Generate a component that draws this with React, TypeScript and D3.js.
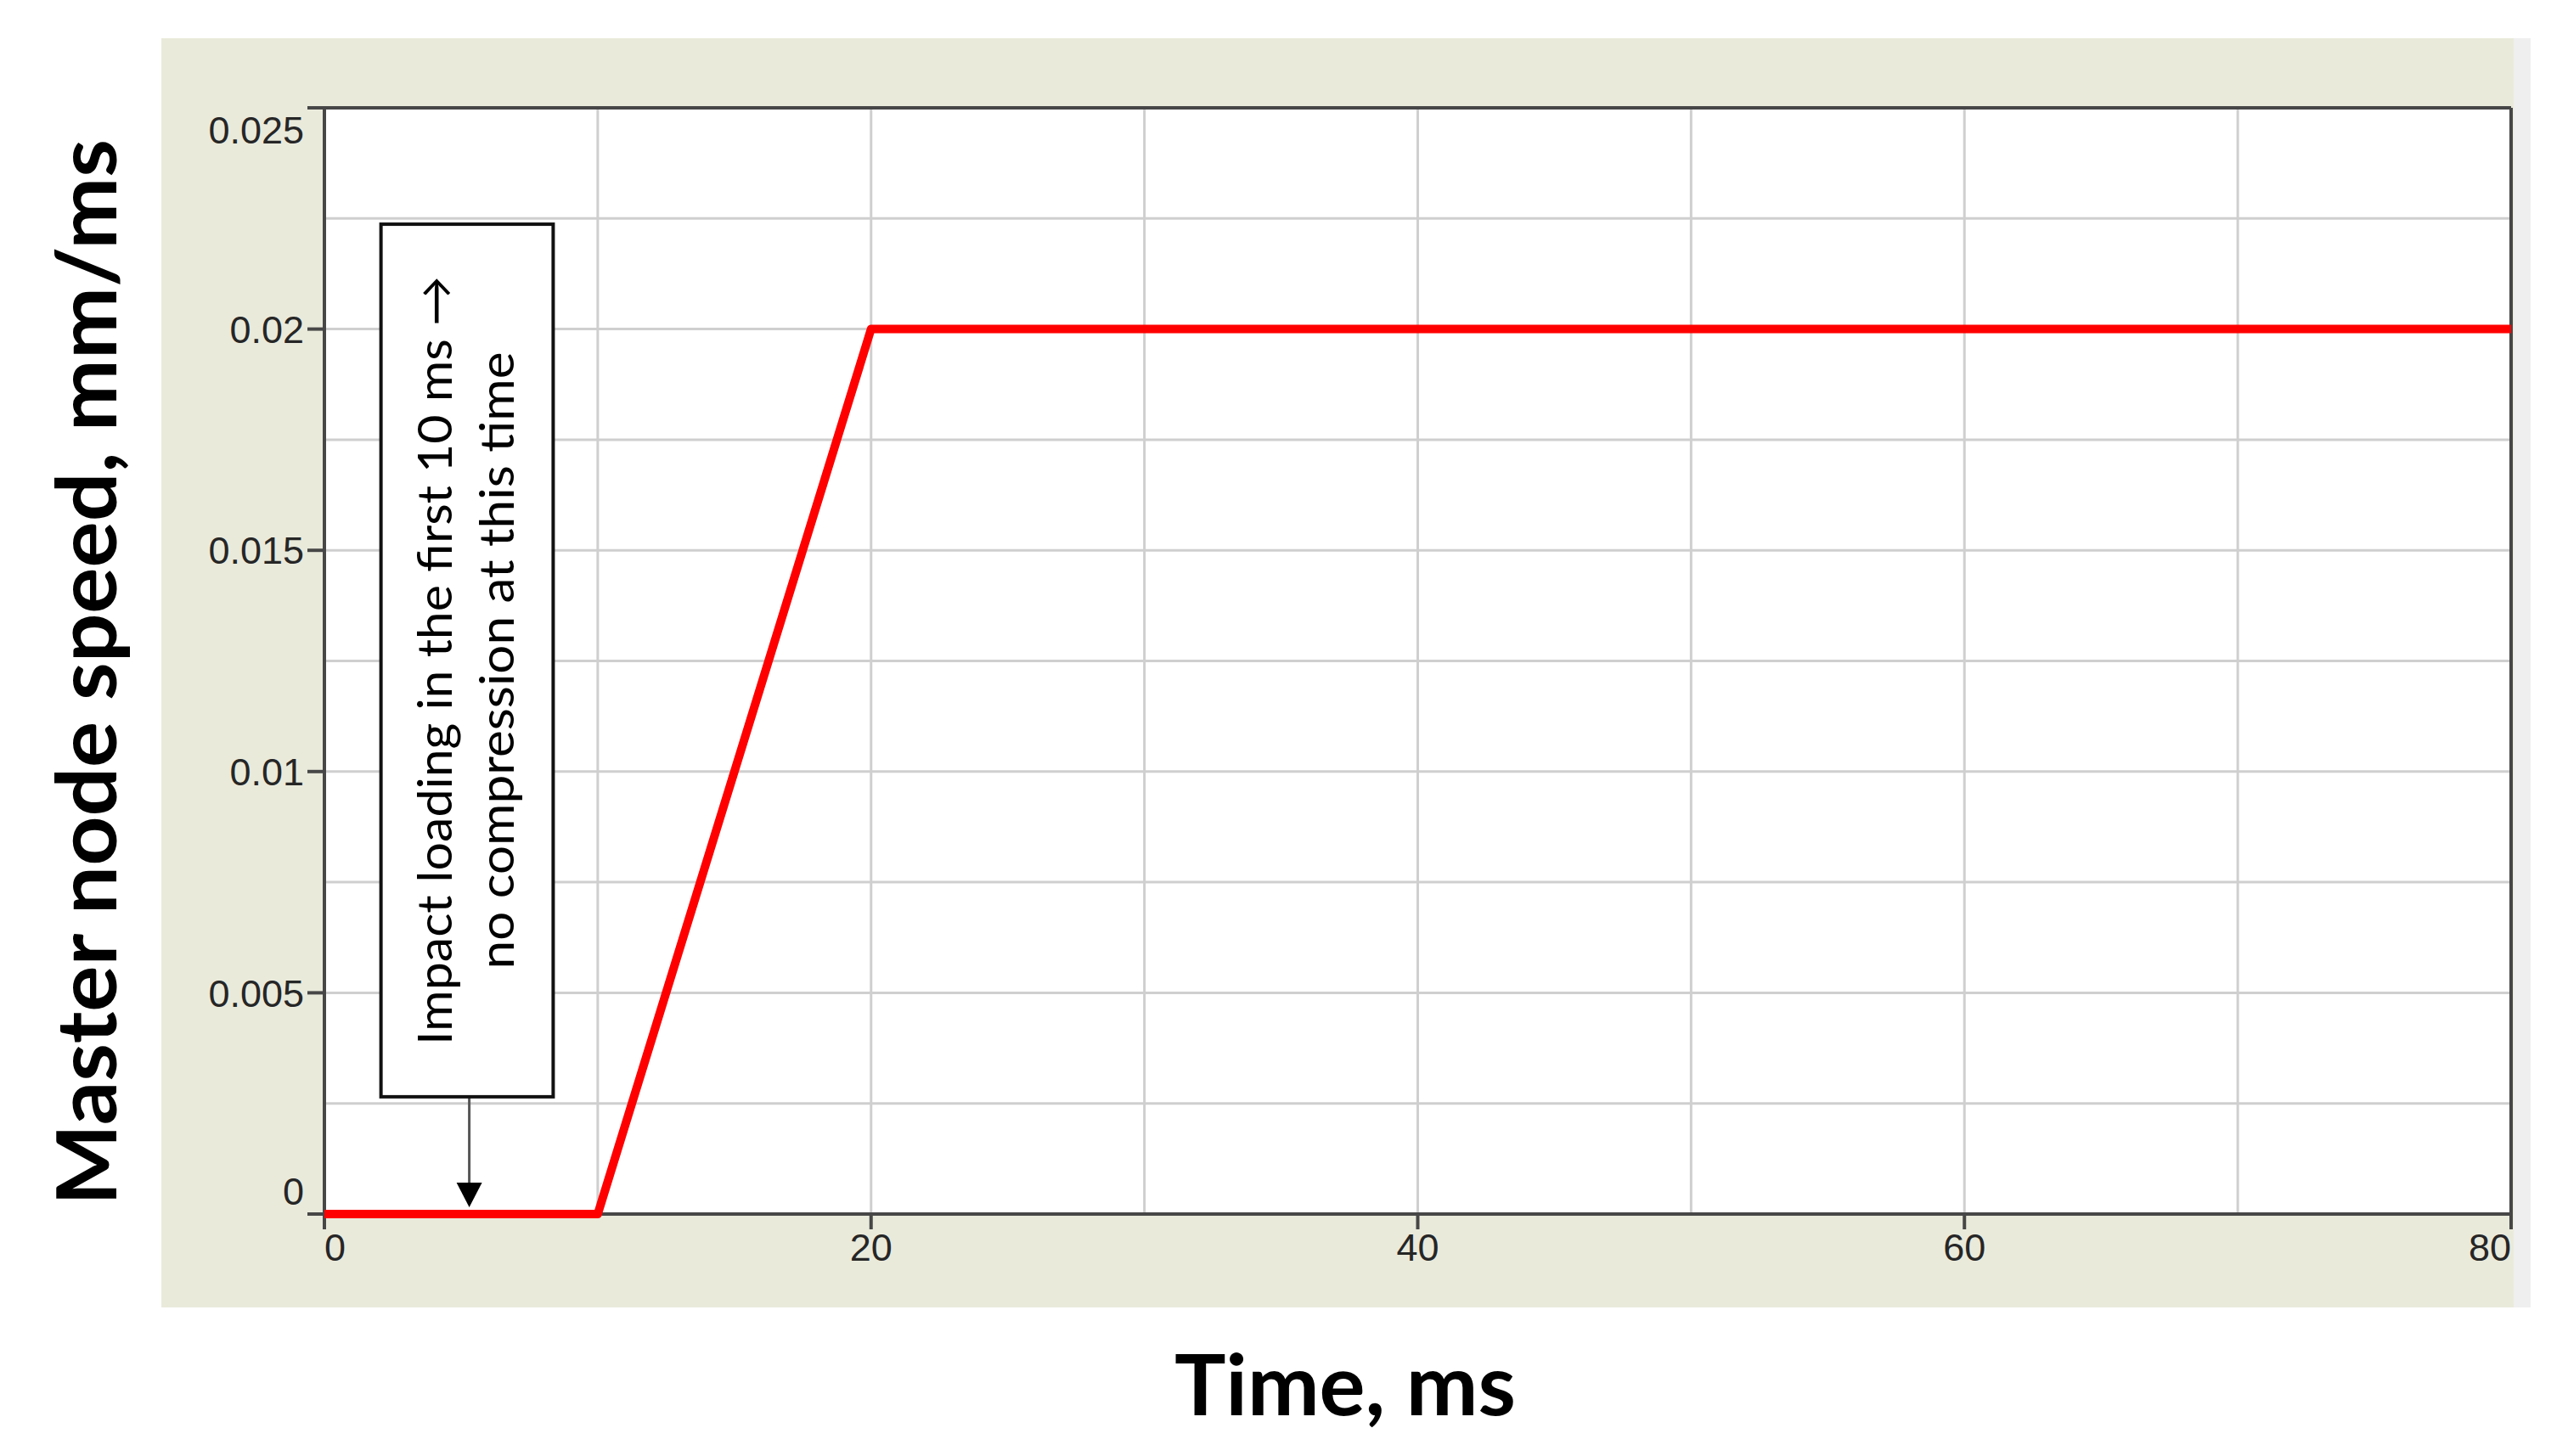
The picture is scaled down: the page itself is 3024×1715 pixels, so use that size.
import React from "react";
import * as d3 from "d3";

// master node speed vs time
const timeMs = [0, 10, 20, 80];
const speedMmPerMs = [0, 0, 0.02, 0.02];

const xTicks = [0, 20, 40, 60, 80];
const xGrid = [10, 20, 30, 40, 50, 60, 70];
const yTicks = [0, 0.005, 0.01, 0.015, 0.02, 0.025];
const yTickLabels = ["0", "0.005", "0.01", "0.015", "0.02", "0.025"];
const yGrid = [0.0025, 0.005, 0.0075, 0.01, 0.0125, 0.015, 0.0175, 0.02, 0.0225];

const noteLines = ["Impact loading in the first 10 ms \u2192", "no compression at this time"];
// annotation box in data units: [x0, x1], [y0, y1], pointer x
const noteX = [2.07, 8.37];
const noteY = [0.00265, 0.02237];
const notePointerX = 5.3;

const W = 3024;
const H = 1715;
const plot = { left: 382, right: 2957, top: 127, bottom: 1430 };
const panel = { left: 190, right: 2960, top: 45, bottom: 1540 };

const tickFont = "'Liberation Sans', Arial, sans-serif";
const titleFont = "Lato, 'Open Sans', sans-serif";

export default function App() {
  const x = d3.scaleLinear().domain([0, 80]).range([plot.left, plot.right]);
  const y = d3.scaleLinear().domain([0, 0.025]).range([plot.bottom, plot.top]);

  const line = d3
    .line<number>()
    .x((d, i) => x(timeMs[i]))
    .y((d) => y(d));

  const bx0 = x(noteX[0]);
  const bx1 = x(noteX[1]);
  const by0 = y(noteY[1]);
  const by1 = y(noteY[0]);
  const px = x(notePointerX);
  const tipY = y(0) - 8;

  return (
    <div style={{ position: "absolute", left: 0, top: 0 }}>
      <svg width={W} height={H} viewBox={`0 0 ${W} ${H}`} style={{ display: "block", background: "#fff" }}>
        {/* panel background */}
        <rect x={panel.left} y={panel.top} width={panel.right - panel.left} height={panel.bottom - panel.top} fill="#eaeadb" />
        <rect x={panel.right} y={panel.top} width={20} height={panel.bottom - panel.top} fill="#efefef" />
        <rect x={plot.left} y={plot.top} width={plot.right - plot.left} height={plot.bottom - plot.top} fill="#fff" />

        {/* grid */}
        {xGrid.map((t) => (
          <line key={"gx" + t} x1={x(t)} x2={x(t)} y1={plot.top} y2={plot.bottom} stroke="#cfcfcf" strokeWidth={3} />
        ))}
        {yGrid.map((t) => (
          <line key={"gy" + t} x1={plot.left} x2={plot.right} y1={y(t)} y2={y(t)} stroke="#cfcfcf" strokeWidth={3} />
        ))}

        {/* frame + ticks */}
        <g stroke="#474747" strokeWidth={4} fill="none">
          <line x1={plot.left} x2={plot.left} y1={plot.top} y2={plot.bottom} />
          <line x1={plot.left} x2={plot.right} y1={plot.bottom} y2={plot.bottom} />
          <line x1={plot.left} x2={plot.right} y1={plot.top} y2={plot.top} />
          <line x1={plot.right} x2={plot.right} y1={plot.top} y2={plot.bottom} />
          {xTicks.map((t) => (
            <line key={"tx" + t} x1={x(t)} x2={x(t)} y1={plot.bottom} y2={plot.bottom + 18} />
          ))}
          {yTicks.map((t) => (
            <line key={"ty" + t} x1={plot.left - 20} x2={plot.left} y1={y(t)} y2={y(t)} />
          ))}
        </g>

        {/* tick labels */}
        <g fontFamily={tickFont} fontSize={45} fill="#262626">
          {xTicks.map((t, i) => (
            <text
              key={"lx" + t}
              x={x(t)}
              y={1485}
              textAnchor={i === 0 ? "start" : i === xTicks.length - 1 ? "end" : "middle"}
            >
              {t}
            </text>
          ))}
          {yTicks.map((t, i) => {
            const shift = i === 0 ? -27 : i === yTicks.length - 1 ? 26 : 0;
            return (
              <text key={"ly" + t} x={plot.left - 24} y={y(t) + shift} dy="0.36em" textAnchor="end">
                {yTickLabels[i]}
              </text>
            );
          })}
        </g>

        {/* series */}
        <path d={line(speedMmPerMs) || ""} fill="none" stroke="#ff0000" strokeWidth={10} strokeLinejoin="round" />

        {/* annotation */}
        <line x1={px} x2={px} y1={by1} y2={tipY - 28} stroke="#555" strokeWidth={3} />
        <path d={`M${px - 15},${tipY - 29}L${px + 15},${tipY - 29}L${px},${tipY}Z`} fill="#000" />
        <rect x={bx0} y={by0} width={bx1 - bx0} height={by1 - by0} fill="#fff" stroke="#111" strokeWidth={4} />
        <g transform={`translate(${(bx0 + bx1) / 2},${(by0 + by1) / 2}) rotate(-90)`} fontFamily={titleFont} fontSize={56} fill="#000">
          <text x={0} y={-18} textAnchor="middle" textLength={906} lengthAdjust="spacingAndGlyphs">
            {noteLines[0]}
          </text>
          <text x={0} y={55} textAnchor="middle" textLength={727} lengthAdjust="spacingAndGlyphs">
            {noteLines[1]}
          </text>
        </g>

        {/* axis titles */}
        <text
          transform="translate(137,792) rotate(-90)"
          textAnchor="middle"
          fontFamily={titleFont}
          fontWeight="bold"
          fontSize={97}
          textLength={1256}
          lengthAdjust="spacingAndGlyphs"
        >
          Master node speed, mm/ms
        </text>
        <text
          x={1584}
          y={1667}
          textAnchor="middle"
          fontFamily={titleFont}
          fontWeight="bold"
          fontSize={100}
          textLength={402}
          lengthAdjust="spacingAndGlyphs"
        >
          Time, ms
        </text>
      </svg>
    </div>
  );
}
